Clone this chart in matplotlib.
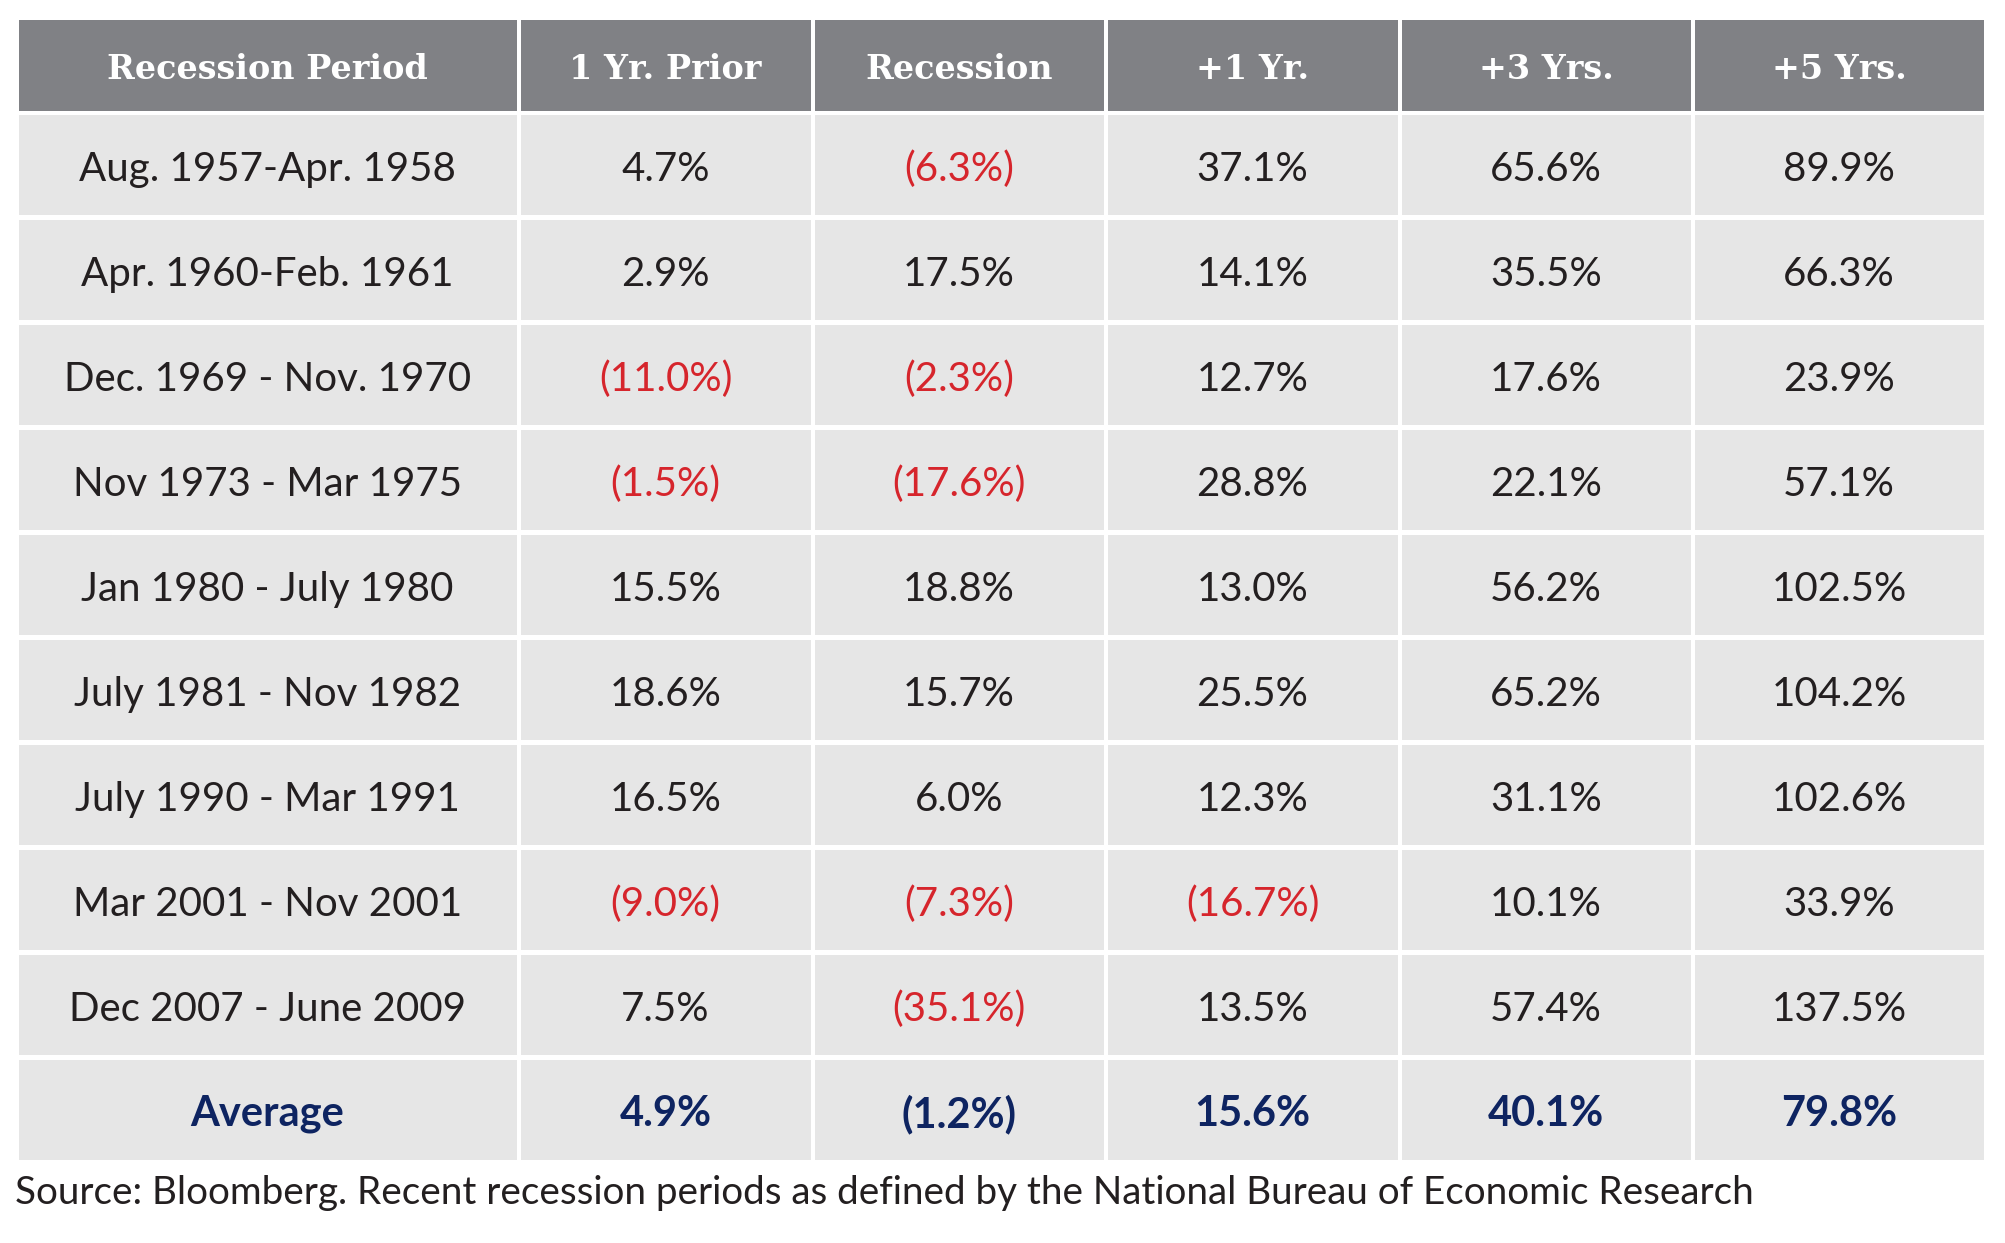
import matplotlib
matplotlib.use("Agg")
import matplotlib.pyplot as plt
from matplotlib.patches import Rectangle

columns = ["Recession Period", "1 Yr. Prior", "Recession", "+1 Yr.", "+3 Yrs.", "+5 Yrs."]
periods = ["Aug. 1957-Apr. 1958", "Apr. 1960-Feb. 1961", "Dec. 1969 - Nov. 1970",
           "Nov 1973 - Mar 1975", "Jan 1980 - July 1980", "July 1981 - Nov 1982",
           "July 1990 - Mar 1991", "Mar 2001 - Nov 2001", "Dec 2007 - June 2009"]
yr_prior = [4.7, 2.9, -11.0, -1.5, 15.5, 18.6, 16.5, -9.0, 7.5]
recession = [-6.3, 17.5, -2.3, -17.6, 18.8, 15.7, 6.0, -7.3, -35.1]
plus_1 = [37.1, 14.1, 12.7, 28.8, 13.0, 25.5, 12.3, -16.7, 13.5]
plus_3 = [65.6, 35.5, 17.6, 22.1, 56.2, 65.2, 31.1, 10.1, 57.4]
plus_5 = [89.9, 66.3, 23.9, 57.1, 102.5, 104.2, 102.6, 33.9, 137.5]
average = [4.9, -1.2, 15.6, 40.1, 79.8]
source = "Source: Bloomberg. Recent recession periods as defined by the National Bureau of Economic Research"

header_bg = "#808185"
cell_bg = "#e6e6e6"
red = "#d6252c"
navy = "#0e2461"
ink = "#231f20"


def fmt(v):
    return f"({abs(v):.1f}%)" if v < 0 else f"{v:.1f}%"


fig = plt.figure(figsize=(20.06, 12.43), dpi=100)
ax = fig.add_axes([0, 0, 1, 1])
ax.set_xlim(0, 2006)
ax.set_ylim(1243, 0)
ax.axis("off")

col_edges = [19, 521, 815, 1108, 1402, 1695, 1988]
gap = 5
header_top, header_h = 20, 91
row_top, row_h = 115, 100

# header row
for c, name in enumerate(columns):
    x0, x1 = col_edges[c], col_edges[c + 1]
    ax.add_patch(Rectangle((x0, header_top), x1 - x0 - gap + 1, header_h, color=header_bg, lw=0))
    ax.text((x0 + x1 - gap) / 2, header_top + header_h / 2 + 4, name, ha="center", va="center",
            color="white", fontsize=24, fontweight="bold", family="DejaVu Serif")

series = [yr_prior, recession, plus_1, plus_3, plus_5]
rows = [[p] + [s[i] for s in series] for i, p in enumerate(periods)]
rows.append(["Average"] + average)

for r, row in enumerate(rows):
    y0 = row_top + r * (row_h + gap)
    is_avg = r == len(rows) - 1
    for c, val in enumerate(row):
        x0, x1 = col_edges[c], col_edges[c + 1]
        ax.add_patch(Rectangle((x0, y0), x1 - x0 - gap + 1, row_h, color=cell_bg, lw=0))
        if isinstance(val, str):
            txt, color = val, ink
        else:
            txt = fmt(val)
            color = red if val < 0 else ink
        if is_avg:
            color = navy
        ax.text((x0 + x1 - gap) / 2, y0 + row_h / 2 + 4, txt, ha="center", va="center",
                color=color, fontsize=30 if is_avg else 29, family="Lato",
                fontweight="bold" if is_avg else "normal")

ax.text(15, 1193, source, ha="left", va="center", color=ink, fontsize=27.8,
        family="Lato", fontweight="normal")

fig.savefig("out.png", dpi=100, facecolor="white")
